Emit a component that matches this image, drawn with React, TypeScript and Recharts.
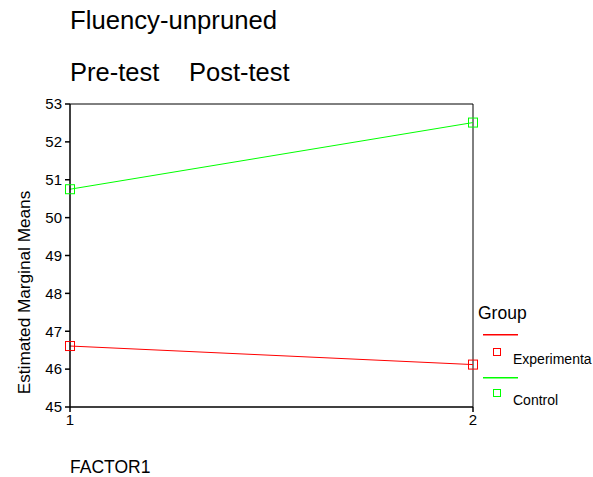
import React from "react";
import { LineChart, Line, XAxis, YAxis, ReferenceLine } from "recharts";

const factor = [1, 2];
const experimental = [46.61, 46.12];
const control = [50.75, 52.51];
const yTicks = [45, 46, 47, 48, 49, 50, 51, 52, 53];
const xTicks = [1, 2];
const title = "Fluency-unpruned";
const subtitles = ["Pre-test", "Post-test"];
const legendTitle = "Group";
const seriesNames = ["Experimenta", "Control"];

const data = factor.map((f, i) => ({ f, exp: experimental[i], ctl: control[i] }));

const FONT = "'Liberation Sans', Arial, sans-serif";
const RED = "#ff0000";
const GREEN = "#00ff00";

const Square = (color: string) => (props: any) => {
  const { cx, cy } = props;
  if (cx == null || cy == null) return null;
  return <rect key={`${color}-${cx}`} x={cx - 4.5} y={cy - 4.5} width={9} height={9} fill="none" stroke={color} strokeWidth={1} />;
};

export default function App() {
  return (
    <div style={{ position: "absolute", left: 0, top: 0, width: 593, height: 477, background: "#fff", fontFamily: FONT }}>
      <LineChart width={593} height={477} data={data} margin={{ top: 104, right: 120, bottom: 40, left: 30 }}>
        <XAxis
          dataKey="f"
          type="number"
          domain={[1, 2]}
          ticks={xTicks}
          stroke="#000"
          strokeWidth={1.5}
          tickSize={5}
          tickMargin={2}
          height={30}
          tick={{ fill: "#000", fontSize: 15, fontFamily: FONT }}
        />
        <YAxis
          type="number"
          domain={[45, 53]}
          ticks={yTicks}
          stroke="#000"
          strokeWidth={1.5}
          tickSize={5}
          tickMargin={3}
          width={40}
          interval={0}
          tick={{ fill: "#000", fontSize: 15, fontFamily: FONT }}
        />
        <ReferenceLine y={53} stroke="#000" strokeWidth={1} />
        <ReferenceLine x={2} stroke="#000" strokeWidth={1} />
        <Line dataKey="ctl" stroke={GREEN} strokeWidth={1} isAnimationActive={false} dot={Square(GREEN)} activeDot={false} />
        <Line dataKey="exp" stroke={RED} strokeWidth={1} isAnimationActive={false} dot={Square(RED)} activeDot={false} />
      </LineChart>
      <svg
        width={593}
        height={477}
        style={{ position: "absolute", left: 0, top: 0, pointerEvents: "none" }}
        fontFamily={FONT}
      >
        <text x={70} y={29} fontSize={25.7} fill="#000">{title}</text>
        <text x={70} y={81} fontSize={25.5} fill="#000">{subtitles[0]}</text>
        <text x={189} y={81} fontSize={25.5} fill="#000">{subtitles[1]}</text>
        <text x={70} y={473} fontSize={17.5} fill="#000">FACTOR1</text>
        <text x={30} y={292.5} fontSize={17.2} fill="#000" textAnchor="middle" transform="rotate(-90 30 292.5)">
          Estimated Marginal Means
        </text>
        <text x={478} y={319} fontSize={17.5} fill="#000">{legendTitle}</text>
        <rect x={483} y={334} width={35} height={1.5} fill={RED} />
        <rect x={493.5} y={348.5} width={7} height={7} fill="none" stroke={RED} strokeWidth={1} />
        <text x={513} y={364} fontSize={14} fill="#000">{seriesNames[0]}</text>
        <rect x={483} y={377} width={35} height={1.5} fill={GREEN} />
        <rect x={493.5} y={389.5} width={7} height={7} fill="none" stroke={GREEN} strokeWidth={1} />
        <text x={513} y={405} fontSize={14} fill="#000">{seriesNames[1]}</text>
      </svg>
    </div>
  );
}
